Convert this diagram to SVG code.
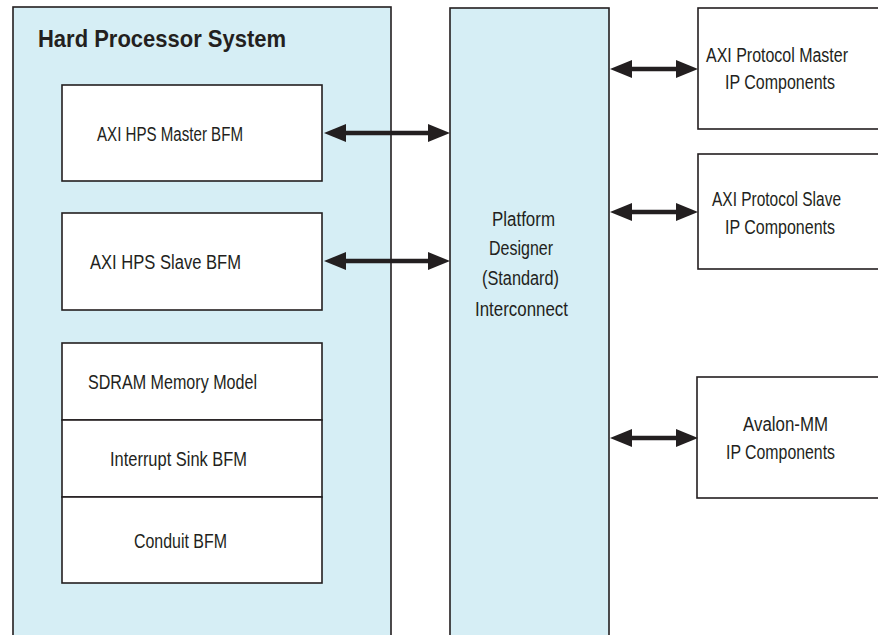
<svg xmlns="http://www.w3.org/2000/svg" width="878" height="635" viewBox="0 0 878 635">
<defs>
<style>
.outer{fill:#d6eef5;stroke:#231f20;stroke-width:1.6}
.box{fill:#ffffff;stroke:#231f20;stroke-width:1.6}
.t{font-family:"Liberation Sans","Arial",sans-serif;font-size:19.5px;fill:#231f20}
.c{text-anchor:middle}
.title{font-family:"Liberation Sans","Arial",sans-serif;font-weight:bold;font-size:24px;fill:#231f20}
.arr{stroke:#231f20;stroke-width:4.5;fill:none;marker-start:url(#ah);marker-end:url(#ah)}
</style>
<marker id="ah" markerUnits="userSpaceOnUse" markerWidth="22" markerHeight="18" refX="0" refY="9" orient="auto-start-reverse" viewBox="0 0 22 18">
<path d="M0,0 L22,9 L0,18 Z" fill="#231f20"/>
</marker>
</defs>
<rect width="878" height="635" fill="#ffffff"/>
<g id="hps">
<rect class="outer" x="13" y="7" width="378" height="640"/>
<text class="title" x="38" y="47" textLength="248" lengthAdjust="spacingAndGlyphs">Hard Processor System</text>
</g>
<g id="master-bfm">
<rect class="box" x="62" y="85" width="260" height="96"/>
<text class="t" x="97" y="141" textLength="146" lengthAdjust="spacingAndGlyphs">AXI HPS Master BFM</text>
</g>
<g id="slave-bfm">
<rect class="box" x="62" y="213" width="260" height="97"/>
<text class="t" x="90" y="269" textLength="151" lengthAdjust="spacingAndGlyphs">AXI HPS Slave BFM</text>
</g>
<g id="sdram">
<rect class="box" x="62" y="343" width="260" height="77"/>
<text class="t" x="88" y="389" textLength="169" lengthAdjust="spacingAndGlyphs">SDRAM Memory Model</text>
</g>
<g id="interrupt">
<rect class="box" x="62" y="420" width="260" height="77"/>
<text class="t" x="110" y="466" textLength="137" lengthAdjust="spacingAndGlyphs">Interrupt Sink BFM</text>
</g>
<g id="conduit">
<rect class="box" x="62" y="497" width="260" height="86"/>
<text class="t" x="134" y="548" textLength="93" lengthAdjust="spacingAndGlyphs">Conduit BFM</text>
</g>
<g id="interconnect">
<rect class="outer" x="450" y="8" width="159" height="640"/>
<text class="t c" x="523.5" y="226" textLength="63" lengthAdjust="spacingAndGlyphs">Platform</text>
<text class="t c" x="521" y="255" textLength="64" lengthAdjust="spacingAndGlyphs">Designer</text>
<text class="t c" x="520.5" y="285" textLength="77" lengthAdjust="spacingAndGlyphs">(Standard)</text>
<text class="t c" x="521.5" y="316" textLength="93" lengthAdjust="spacingAndGlyphs">Interconnect</text>
</g>
<g id="axi-master-ip">
<rect class="box" x="698" y="8" width="200" height="121"/>
<text class="t" x="706" y="62" textLength="142" lengthAdjust="spacingAndGlyphs">AXI Protocol Master</text>
<text class="t" x="725" y="89" textLength="110" lengthAdjust="spacingAndGlyphs">IP Components</text>
</g>
<g id="axi-slave-ip">
<rect class="box" x="698" y="154" width="200" height="115"/>
<text class="t" x="712" y="206" textLength="129" lengthAdjust="spacingAndGlyphs">AXI Protocol Slave</text>
<text class="t" x="725" y="234" textLength="110" lengthAdjust="spacingAndGlyphs">IP Components</text>
</g>
<g id="avalon-ip">
<rect class="box" x="697" y="377" width="200" height="121"/>
<text class="t" x="743" y="431" textLength="85" lengthAdjust="spacingAndGlyphs">Avalon-MM</text>
<text class="t" x="726" y="459" textLength="109" lengthAdjust="spacingAndGlyphs">IP Components</text>
</g>
<g id="connectors">
<line class="arr" x1="346" y1="133" x2="428" y2="133"/>
<line class="arr" x1="346" y1="261" x2="428" y2="261"/>
<line class="arr" x1="632" y1="69" x2="676" y2="69"/>
<line class="arr" x1="632" y1="212" x2="676" y2="212"/>
<line class="arr" x1="632" y1="438" x2="676" y2="438"/>
</g>
</svg>
